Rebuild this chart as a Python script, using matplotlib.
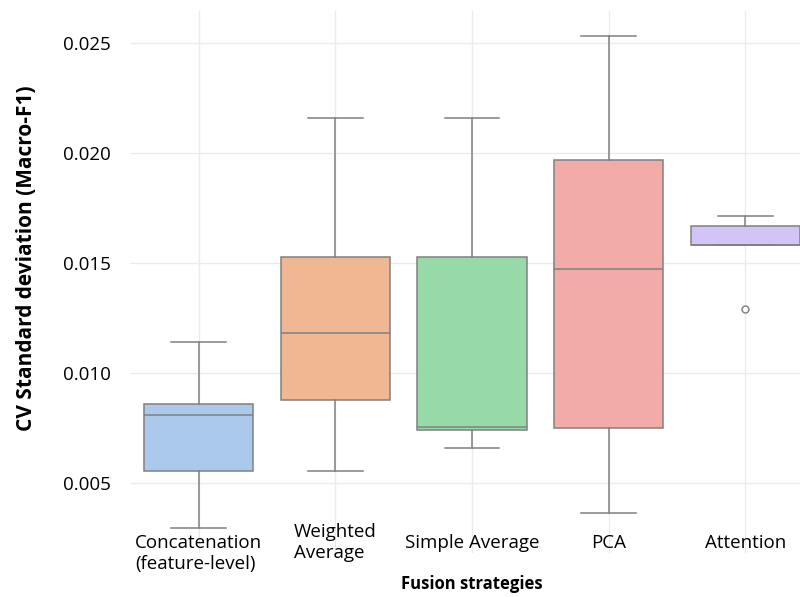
import numpy as np
import matplotlib.pyplot as plt
import seaborn as sns

# CV standard deviation of Macro-F1 per fusion strategy (box summary stats)
strategies = ['Concatenation\n(feature-level)', 'Weighted\nAverage', 'Simple Average', 'PCA', 'Attention']
whisker_low = [0.00297, 0.00557, 0.00660, 0.00364, 0.01583]
q1 = [0.00555, 0.00877, 0.00741, 0.00753, 0.01583]
median = [0.00809, 0.01183, 0.00756, 0.01473, 0.01583]
q3 = [0.00860, 0.01527, 0.01527, 0.01970, 0.01670]
whisker_high = [0.01141, 0.02162, 0.02162, 0.02533, 0.01716]
outliers = [[], [], [], [], [0.01291]]
yticks = [0.005, 0.010, 0.015, 0.020, 0.025]

plt.rcParams['font.family'] = ['Open Sans', 'DejaVu Sans']

colors = [sns.desaturate(c, 0.75) for c in sns.color_palette('pastel', 5)]

stats = []
for i in range(len(strategies)):
    stats.append({'whislo': whisker_low[i], 'q1': q1[i], 'med': median[i],
                  'q3': q3[i], 'whishi': whisker_high[i], 'fliers': outliers[i]})

fig = plt.figure(figsize=(8, 5.97), dpi=100)
ax = fig.add_axes([0.1629, 0.0744, 0.854, 0.9066])

line_col = '#808080'
bp = ax.bxp(stats, positions=range(len(strategies)), widths=0.8, patch_artist=True,
            capwidths=0.4,
            boxprops=dict(edgecolor=line_col, linewidth=1.1),
            medianprops=dict(color=line_col, linewidth=1.1),
            whiskerprops=dict(color=line_col, linewidth=1.1),
            capprops=dict(color=line_col, linewidth=1.1),
            flierprops=dict(marker='o', markerfacecolor='white', markeredgecolor=line_col,
                            markersize=5, markeredgewidth=1.0))
for patch, c in zip(bp['boxes'], colors):
    patch.set_facecolor(c)

ax.set_xlim(-0.5, len(strategies) - 0.5)
ax.set_ylim(0.00185, 0.02645)
ax.set_yticks(yticks)
ax.set_yticklabels(['%.3f' % v for v in yticks])
ax.tick_params(axis='y', length=0, pad=14, labelsize=13.5, labelcolor='black')
ax.set_xticks(range(len(strategies)))
ax.set_xticklabels([])
ax.tick_params(axis='x', length=0)

ax.grid(True, color='#ebebeb', linewidth=1.0)
ax.set_axisbelow(True)
for s in ax.spines.values():
    s.set_visible(False)

# category labels sit just inside the bottom of the plot area
for i, name in enumerate(strategies):
    if name.startswith('Concatenation'):
        ax.text(i, 0.034, name, transform=ax.get_xaxis_transform(), ha='center', va='top',
                multialignment='left', fontsize=13.5, linespacing=1.2)
    else:
        ax.text(i, 0.018, name, transform=ax.get_xaxis_transform(), ha='center', va='center',
                multialignment='left', fontsize=13.5, linespacing=1.2)

ax.set_ylabel('CV Standard deviation (Macro-F1)', fontsize=15, fontweight='bold')
ax.yaxis.set_label_coords(-0.1366, 0.544)
ax.set_xlabel('Fusion strategies', fontsize=12, fontweight='bold')
ax.xaxis.set_label_coords(0.5, -0.041)

fig.savefig('out.png', dpi=100)
